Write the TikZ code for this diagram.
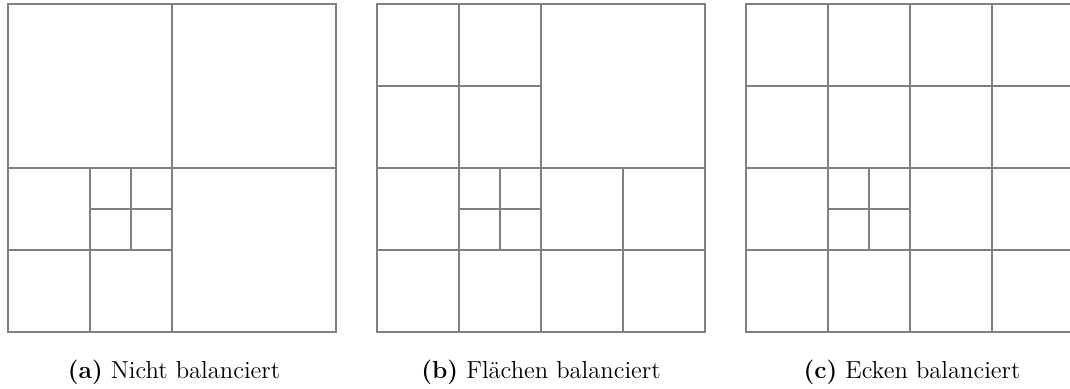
\documentclass[tikz,border=0pt]{standalone}
\usepackage{fontspec}
\setmainfont{Latin Modern Roman}
\tikzset{
  gridline/.style={draw=black!50, line width=1pt},
  caption/.style={anchor=base, font=\fontsize{12.3}{15}\selectfont, inner sep=0pt}
}
\begin{document}
\begin{tikzpicture}[x=0.5pt,y=-0.5pt]
\useasboundingbox (0,0) rectangle (1070,389);
% panel (a)
\begin{scope}[shift={(8,4)}, x=20.47pt, y=-20.47pt]
  \draw[gridline] (0,0) rectangle (8,8);
  \draw[gridline] (4,0)--(4,8) (0,4)--(8,4);
  \draw[gridline] (2,4)--(2,8) (0,6)--(4,6);
  \draw[gridline] (3,4)--(3,6) (2,5)--(4,5);
\end{scope}
% panel (b)
\begin{scope}[shift={(377,4)}, x=20.47pt, y=-20.47pt]
  \draw[gridline] (0,0) rectangle (8,8);
  \draw[gridline] (4,0)--(4,8) (0,4)--(8,4);
  \draw[gridline] (2,0)--(2,8) (0,2)--(4,2);
  \draw[gridline] (0,6)--(8,6) (6,4)--(6,8);
  \draw[gridline] (3,4)--(3,6) (2,5)--(4,5);
\end{scope}
% panel (c)
\begin{scope}[shift={(746,4)}, x=20.47pt, y=-20.47pt]
  \draw[gridline] (0,0) rectangle (8,8);
  \draw[gridline] (2,0)--(2,8) (4,0)--(4,8) (6,0)--(6,8);
  \draw[gridline] (0,2)--(8,2) (0,4)--(8,4) (0,6)--(8,6);
  \draw[gridline] (3,4)--(3,6) (2,5)--(4,5);
\end{scope}
\node[caption] (capa) at (174,379) {\textbf{(a)} Nicht balanciert};
\node[caption] (capb) at (541,379) {\textbf{(b)} Flächen balanciert};
\node[caption] (capc) at (912,379) {\textbf{(c)} Ecken balanciert};
\end{tikzpicture}
\end{document}
